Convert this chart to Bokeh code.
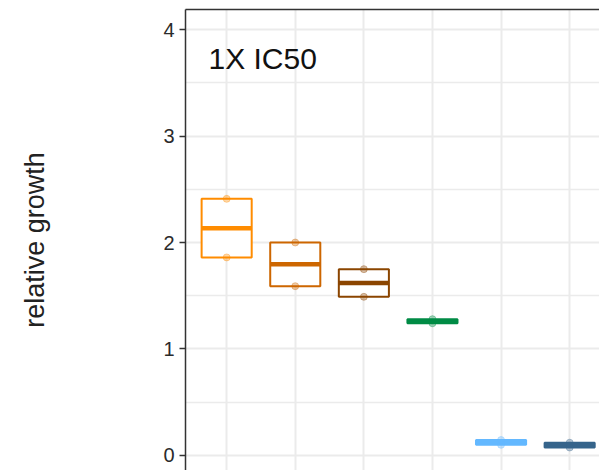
import numpy as np
from bokeh.plotting import figure
from bokeh.models import Range1d, FixedTicker, Label, LinearAxis
from bokeh.embed import file_html
from bokeh.resources import INLINE

# Two replicate measurements of relative growth for each condition (1X IC50)
rep_high = [2.41, 2.00, 1.75, 1.28, 0.145, 0.12]
rep_low = [1.86, 1.59, 1.49, 1.242, 0.10, 0.075]
colors = ["#FF8C00", "#CD6600", "#8B4500", "#008B45", "#63B8FF", "#36648B"]
y_ticks = [0, 1, 2, 3, 4]
y_minor = [0.5, 1.5, 2.5, 3.5]
panel_title = "1X IC50"
y_title = "relative growth"

n = len(rep_high)
xpos = np.arange(1, n + 1)
vals = np.vstack([rep_high, rep_low])
lo = vals.min(axis=0)
hi = vals.max(axis=0)
mid = vals.mean(axis=0)
half = 0.365

xr = Range1d(0.4, 6.435)
yr = Range1d(-0.141, 4.188)
p = figure(width=599, height=470, output_backend="svg", toolbar_location=None,
           x_range=xr, y_range=yr,
           min_border_left=185, min_border_top=9, min_border_right=0, min_border_bottom=0)
p.outline_line_color = None
p.background_fill_color = "white"
p.border_fill_color = "white"

# grid
p.xaxis.visible = False
p.xgrid.ticker = FixedTicker(ticks=list(xpos))
p.xgrid.grid_line_color = "#EBEBEB"
p.xgrid.grid_line_width = 2
p.yaxis.ticker = FixedTicker(ticks=y_ticks, minor_ticks=y_minor)
p.ygrid.grid_line_color = "#EBEBEB"
p.ygrid.grid_line_width = 2
p.ygrid.minor_grid_line_color = "#EBEBEB"
p.ygrid.minor_grid_line_width = 1.5

# left axis
ax = p.yaxis[0]
ax.axis_line_color = "#333333"
ax.axis_line_width = 1.5
ax.major_tick_line_color = "#333333"
ax.major_tick_line_width = 1.5
ax.major_tick_out = 6
ax.major_tick_in = 0
ax.minor_tick_line_color = None
ax.major_label_standoff = 5
ax.major_label_text_font = "Liberation Sans"
ax.major_label_text_font_size = "20px"
ax.major_label_text_color = "#2b2b2b"
ax.axis_label = y_title
ax.axis_label_text_font = "Liberation Sans"
ax.axis_label_text_font_size = "27px"
ax.axis_label_text_font_style = "normal"
ax.axis_label_text_color = "#222222"
ax.axis_label_standoff = 110

# top panel border: a bare axis line with no ticks or labels
top = LinearAxis(ticker=FixedTicker(ticks=[]), axis_line_color="#333333", axis_line_width=1.5,
                 major_tick_line_color=None, minor_tick_line_color=None,
                 major_label_text_font_size="0px", major_label_standoff=0)
p.add_layout(top, "above")

# crossbars: box spans the replicates, thick bar at the mean
p.quad(left=xpos - half, right=xpos + half, bottom=lo, top=hi,
       fill_color="white", line_color=colors, line_width=2)
p.segment(x0=xpos - half, x1=xpos + half, y0=mid, y1=mid,
          line_color=colors, line_width=4.5)

# replicate points
for row in vals:
    p.scatter(xpos, row, size=7, color=colors, alpha=0.35)

p.add_layout(Label(x=0.735, y=3.73, text=panel_title, text_font="Liberation Sans",
                   text_font_size="30px", text_color="#111111", text_baseline="alphabetic"))

open("out.html", "w").write(file_html(p, INLINE))
